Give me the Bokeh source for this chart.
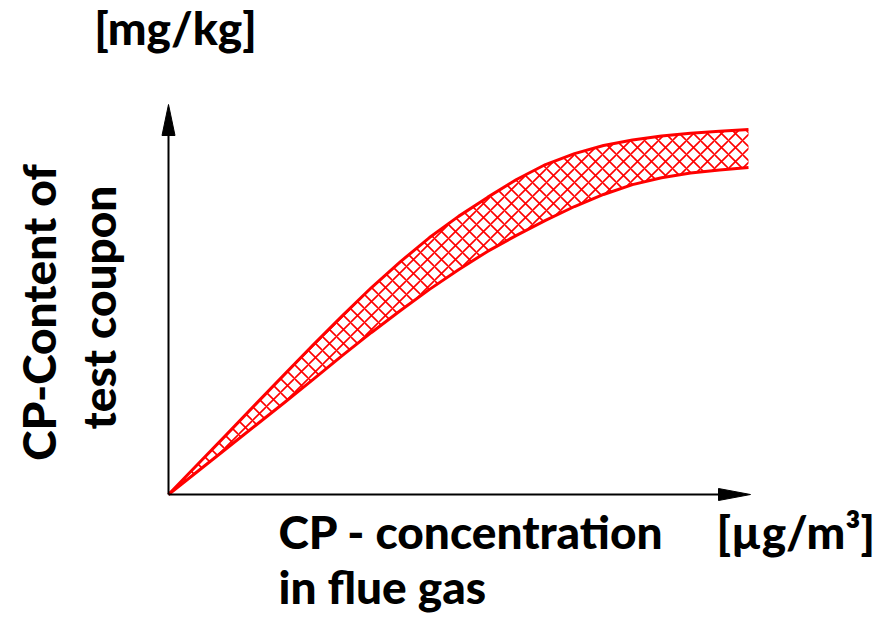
import math
from bokeh.plotting import figure
from bokeh.models import Range1d
from bokeh.core.properties import value
from bokeh.embed import file_html
from bokeh.resources import INLINE

# CP concentration in flue gas (relative units) and the band of CP content in the test coupon
concentration = [0, 0.5, 1, 1.5, 2, 2.5, 3, 3.5, 4, 4.5, 5,
                 5.5, 6, 6.5, 7, 7.5, 8, 8.5, 9, 9.5, 10]
content_upper = [0, 0.82, 1.64, 2.47, 3.29, 4.11, 4.90, 5.67, 6.38, 7.04, 7.62,
                 8.14, 8.63, 9.04, 9.34, 9.56, 9.71, 9.82, 9.90, 9.95, 10.0]
content_lower = [0, 0.63, 1.26, 1.89, 2.52, 3.16, 3.81, 4.44, 5.04, 5.62, 6.16,
                 6.66, 7.10, 7.51, 7.89, 8.22, 8.49, 8.68, 8.81, 8.89, 8.96]

x_label_lines = ["CP - concentration", "in flue gas"]
x_unit = "[µg/m³]"
y_label_lines = ["CP-Content of", "test coupon"]
y_unit = "[mg/kg]"

W, H = 892, 623
# pixel placement of the origin and the scale of one unit
OX, OY = 168, 494
SX, SY = 58.0, 36.5
# baseline correction for the text glyphs, in pixels
TB = 19


def dx(px):
    return (px - OX) / SX


def dy(py):
    return (OY - py) / SY


p = figure(width=W, height=H, output_backend="svg", toolbar_location=None,
           x_range=Range1d(dx(0), dx(W)), y_range=Range1d(dy(H), dy(0)),
           min_border=0)
p.axis.visible = False
p.grid.visible = False
p.outline_line_color = None
p.background_fill_color = "white"
p.border_fill_color = "white"

RED = "#ff0000"

# hatched band between the bounds
p.varea(x=concentration, y1=content_lower, y2=content_upper,
        fill_alpha=0, hatch_pattern="diagonal_cross", hatch_color=RED,
        hatch_scale=14, hatch_weight=1.6)
p.line(concentration, content_upper, line_color=RED, line_width=3, line_join="round")
p.line(concentration, content_lower, line_color=RED, line_width=3, line_join="round")

# axes with arrow heads
p.line([0, 0], [0, dy(130)], line_color="black", line_width=2)
p.line([0, dx(720)], [0, 0], line_color="black", line_width=2)
p.patch([dx(OX - 6.5), dx(OX), dx(OX + 6.5)], [dy(135), dy(104), dy(135)],
        fill_color="black", line_color="black")
p.patch([dx(718), dx(750), dx(718)], [dy(OY - 6), 0, dy(OY + 6)],
        fill_color="black", line_color="black")

font = value("'Lato Black', Lato")
common = dict(text_font=font, text_font_style="bold", text_color="black",
              text_font_size="46px", text_baseline="alphabetic")

p.text(x=[dx(278)], y=[dy(550 - TB)], text=[x_label_lines[0]], text_align="left", **common)
p.text(x=[dx(278)], y=[dy(605 - TB)], text=[x_label_lines[1]], text_align="left", **common)
p.text(x=[dx(716)], y=[dy(550 - TB)], text=[x_unit], text_align="left", **common)
p.text(x=[dx(175)], y=[dy(46 - TB)], text=[y_unit], text_align="center", **common)

p.text(x=[dx(57 - TB)], y=[dy(312)], text=[y_label_lines[0]], angle=math.pi / 2,
       text_align="center", **common)
p.text(x=[dx(117 - TB)], y=[dy(307)], text=[y_label_lines[1]], angle=math.pi / 2,
       text_align="center", **common)

open("out.html", "w").write(file_html(p, INLINE))
